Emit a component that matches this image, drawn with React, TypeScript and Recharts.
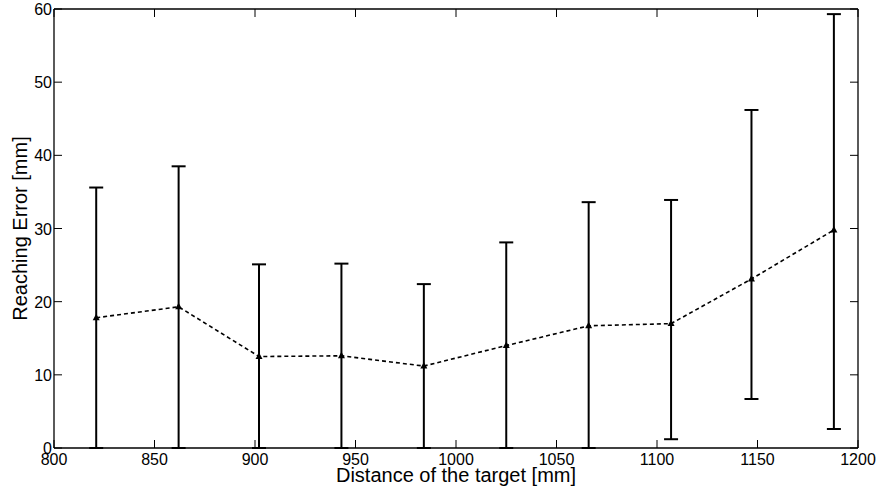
import {
  ComposedChart,
  Line,
  XAxis,
  YAxis,
  ErrorBar
} from 'recharts'

// distance of the target [mm]
const distances = [821, 862, 902, 943, 984, 1025, 1066, 1107, 1147, 1188]
// mean reaching error [mm]
const meanError = [17.8, 19.3, 12.5, 12.6, 11.2, 14.0, 16.7, 17.0, 23.1, 29.8]
// top and bottom ends of the error bars [mm]
const upperBound = [35.6, 38.5, 25.1, 25.2, 22.4, 28.1, 33.6, 33.9, 46.2, 59.3]
const lowerBound = [0, 0, 0, 0, 0, 0, 0, 1.2, 6.7, 2.6]

const xTicks = [800, 850, 900, 950, 1000, 1050, 1100, 1150, 1200]
const yTicks = [0, 10, 20, 30, 40, 50, 60]

const FONT = 'Liberation Sans, Arial, Helvetica, sans-serif'
const TICK_LEN = 8

const chartData = distances.map((d, i) => ({
  distance: d,
  error: meanError[i],
  range: [meanError[i] - lowerBound[i], upperBound[i] - meanError[i]]
}))

const BottomTick = (props: any) => {
  const { x, y, payload } = props
  return (
    <g>
      <line x1={x} y1={y} x2={x} y2={y - TICK_LEN} stroke="#000" strokeWidth={1} />
      <text x={x} y={y + 17} textAnchor="middle" fontSize={16} fontFamily={FONT} fill="#000">
        {payload.value}
      </text>
    </g>
  )
}

const TopTick = (props: any) => {
  const { x, y } = props
  return <line x1={x} y1={y} x2={x} y2={y + TICK_LEN} stroke="#000" strokeWidth={1} />
}

const LeftTick = (props: any) => {
  const { x, y, payload } = props
  return (
    <g>
      <line x1={x} y1={y} x2={x + TICK_LEN} y2={y} stroke="#000" strokeWidth={1} />
      <text x={x - 2} y={y + 6} textAnchor="end" fontSize={16} fontFamily={FONT} fill="#000">
        {payload.value}
      </text>
    </g>
  )
}

const RightTick = (props: any) => {
  const { x, y } = props
  return <line x1={x} y1={y} x2={x - TICK_LEN} y2={y} stroke="#000" strokeWidth={1} />
}

const TriangleDot = (props: any) => {
  const { cx, cy, index } = props
  if (cx == null || cy == null) return <g key={index} />
  return (
    <polygon
      key={index}
      points={`${cx},${cy - 4} ${cx - 3.5},${cy + 2.5} ${cx + 3.5},${cy + 2.5}`}
      fill="#000"
    />
  )
}

export default function App() {
  return (
    <div style={{ position: 'absolute', left: 0, top: 0, width: 878, height: 489, background: '#fff' }}>
      <ComposedChart
        width={878}
        height={489}
        data={chartData}
        margin={{ top: 8, right: 19, bottom: 0, left: 0 }}
      >
        <XAxis
          dataKey="distance"
          type="number"
          domain={[800, 1200]}
          allowDataOverflow
          ticks={xTicks}
          height={41}
          tickSize={0}
          tickMargin={0}
          tickLine={false}
          axisLine={{ stroke: '#000', strokeWidth: 1.3 }}
          tick={<BottomTick />}
          label={(p: any) => {
            const vb = p.viewBox
            return (
              <text
                x={vb.x + vb.width / 2}
                y={vb.y + 34}
                textAnchor="middle"
                fontSize={20}
                fontFamily={FONT}
                fill="#000"
              >
                Distance of the target [mm]
              </text>
            )
          }}
        />
        <XAxis
          xAxisId="top"
          dataKey="distance"
          orientation="top"
          type="number"
          domain={[800, 1200]}
          allowDataOverflow
          ticks={xTicks}
          height={1}
          tickSize={0}
          tickMargin={0}
          tickLine={false}
          axisLine={{ stroke: '#000', strokeWidth: 1.3 }}
          tick={<TopTick />}
        />
        <YAxis
          type="number"
          domain={[0, 60]}
          allowDataOverflow
          ticks={yTicks}
          width={54}
          tickSize={0}
          tickMargin={0}
          tickLine={false}
          axisLine={{ stroke: '#000', strokeWidth: 1.3 }}
          tick={<LeftTick />}
          label={(p: any) => {
            const vb = p.viewBox
            const cx = 20
            const cy = vb.y + vb.height / 2
            return (
              <text
                x={cx}
                y={cy}
                transform={`rotate(-90, ${cx}, ${cy})`}
                textAnchor="middle"
                dominantBaseline="central"
                fontSize={20}
                fontFamily={FONT}
                fill="#000"
              >
                Reaching Error [mm]
              </text>
            )
          }}
        />
        <YAxis
          yAxisId="right"
          orientation="right"
          type="number"
          domain={[0, 60]}
          allowDataOverflow
          ticks={yTicks}
          width={1}
          tickSize={0}
          tickMargin={0}
          tickLine={false}
          axisLine={{ stroke: '#000', strokeWidth: 1.3 }}
          tick={<RightTick />}
        />
        <Line
          dataKey="error"
          stroke="#000"
          strokeWidth={1.6}
          strokeDasharray="4 3"
          dot={<TriangleDot />}
          activeDot={false}
          isAnimationActive={false}
        >
          <ErrorBar
            dataKey="range"
            direction="y"
            width={7}
            stroke="#000"
            strokeWidth={2}
            isAnimationActive={false}
          />
        </Line>
      </ComposedChart>
    </div>
  )
}
